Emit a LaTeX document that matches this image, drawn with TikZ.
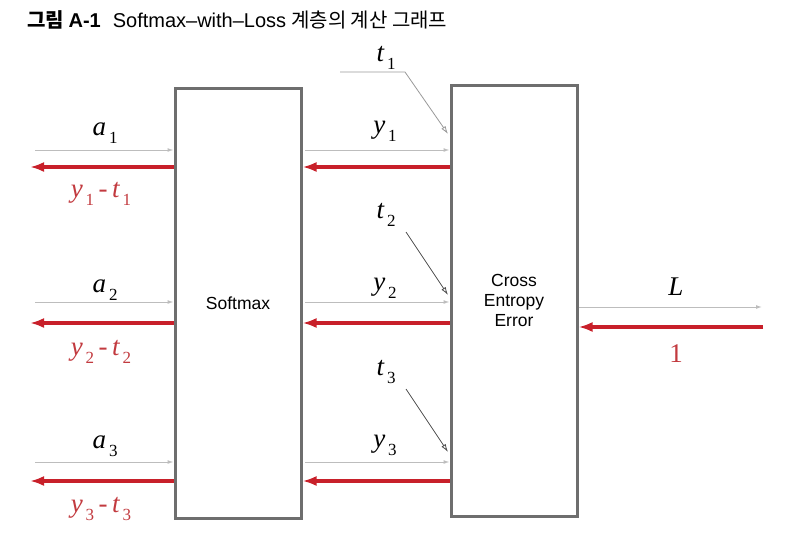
\documentclass[tikz,border=0pt]{standalone}
\usepackage{fontspec}
\setmainfont{Liberation Serif}
\newfontfamily\krfont{Noto Sans CJK KR}
\newfontfamily\hvfont{Liberation Sans}
\usetikzlibrary{arrows.meta}
\definecolor{redline}{HTML}{C8202A}
\definecolor{redtext}{HTML}{C23A3F}
\definecolor{boxgray}{HTML}{6E6E6E}
\definecolor{thingray}{HTML}{BDBDBD}
\newcommand\lab[2]{{\itshape #1}\kern3pt\raisebox{-0.3em}{\fontsize{17}{17}\selectfont #2}}
\begin{document}
\begin{tikzpicture}[x=1pt,y=-1pt,
  blockbox/.style={draw=boxgray,line width=3pt,minimum width=126pt,inner sep=0pt,font=\hvfont\fontsize{17.5}{20}\selectfont,align=center},
  fwd/.style={draw=thingray,line width=1pt,-{Latex[open,length=6pt,width=4pt]}},
  bwd/.style={draw=redline,line width=3.5pt,-{Latex[length=14pt,width=10pt]}},
  tarrow/.style={draw=black!70,line width=0.8pt,-{Latex[open,length=8pt,width=5pt]}},
  mlab/.style={font=\fontsize{27}{27}\selectfont,inner sep=0pt},
  rlab/.style={font=\fontsize{27}{27}\selectfont,inner sep=0pt,text=redtext}]
\useasboundingbox (0,0) rectangle (809,544);
% title
\node[anchor=base west,inner sep=0pt,font=\fontsize{20}{22}\selectfont] (title) at (27,27)
  {{\krfont\bfseries 그림 }{\hvfont\bfseries A-1}\hspace{12pt}{\hvfont Softmax–with–Loss} {\krfont 계층의 계산 그래프}};
% boxes
\node[blockbox,minimum height=430pt] (sm) at (238,303) {Softmax};
\node[blockbox,minimum height=431pt] (ce) at (514,300.5) {Cross\\Entropy\\Error};
% left side
\foreach \i/\yf/\yb/\ya/\yr in {1/150/167/133/194, 2/302/323/290/352, 3/462/481/446/509}{
  \coordinate (la\i) at (35,\yf);
  \coordinate (lb\i) at (30,\yb);
  \draw[fwd] (la\i) -- (sm.west |- la\i);
  \draw[bwd] (sm.west |- lb\i) -- (lb\i);
  \node[mlab] (a\i) at (105,\ya) {\lab{a}{\i}};
  \node[rlab] (d\i) at (101,\yr) {\lab{y}{\i}\,-\,\lab{t}{\i}};
  \coordinate (ma\i) at (305,\yf);
  \coordinate (mb\i) at (305,\yb);
  \draw[fwd] (ma\i) -- (ce.west |- ma\i);
  \draw[bwd] (ce.west |- mb\i) -- (sm.east |- mb\i);
}
\node[mlab] (y1) at (385,131) {\lab{y}{1}};
\node[mlab] (y2) at (385,288) {\lab{y}{2}};
\node[mlab] (y3) at (385,445) {\lab{y}{3}};
% t inputs
\node[mlab] (t1) at (386,58) {\lab{t}{1}};
\node[mlab] (t2) at (386,215) {\lab{t}{2}};
\node[mlab] (t3) at (386,372) {\lab{t}{3}};
\coordinate (t1s) at (340,72);
\coordinate (t1k) at (405,72);
\coordinate (t1e) at (448,134);
\draw[tarrow,draw=black!40] (t1s) -- (t1k) -- (t1e);
\coordinate (t2s) at (406,232);
\coordinate (t2e) at (448,295);
\draw[tarrow] (t2s) -- (t2e);
\coordinate (t3s) at (406,389);
\coordinate (t3e) at (448,452);
\draw[tarrow] (t3s) -- (t3e);
% right side
\coordinate (Le) at (762,307);
\coordinate (Rb) at (763,327);
\draw[fwd] (ce.east |- Le) -- (Le);
\draw[bwd] (Rb) -- (ce.east |- Rb);
\node[mlab] (L) at (676,287) {\itshape L};
\node[rlab] (one) at (676,354) {1};
\end{tikzpicture}
\end{document}
